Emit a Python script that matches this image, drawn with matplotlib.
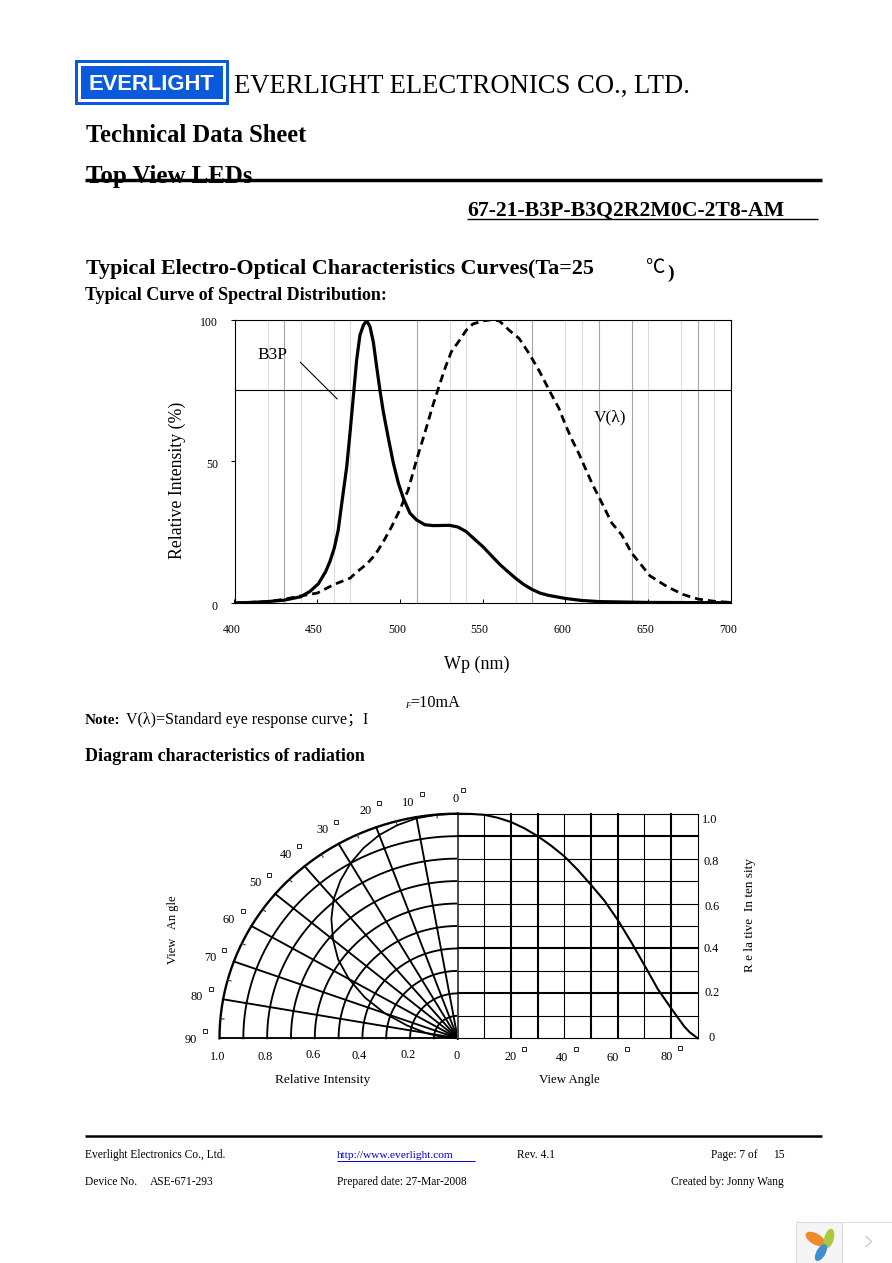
import matplotlib
matplotlib.use("Agg")
import matplotlib.pyplot as plt
import numpy as np
from matplotlib.patches import Ellipse, Rectangle
from matplotlib.transforms import ScaledTranslation

plt.rcParams['font.family'] = ['Liberation Serif', 'Noto Sans CJK SC', 'DejaVu Sans']

W, H = 892, 1263

# spectral distribution
b3p_nm = [400, 410, 420, 430, 440, 445.6, 450.7, 455, 457.7, 460.3, 462.7, 465, 467.8, 469.8, 471.8, 473.8,
          475.8, 477.9, 479.9, 481.9, 483.9, 485.9, 487.9, 489.9, 493, 496, 499, 502, 506, 510, 515, 520,
          530, 535, 540, 544.3, 550.4, 555.4, 560.5, 565.5, 569.7, 574.6, 579.4, 584.6, 589.7, 600, 609.6,
          620, 650, 700]
b3p_val = [0, 0.2, 0.5, 1, 2.2, 4.1, 6.8, 11, 14.7, 19.4, 25.8, 36, 48, 60, 72.8, 85.7,
           94.5, 98, 99.6, 97.4, 92, 83.3, 75, 67.5, 58, 49.3, 42.3, 37, 31.7, 29.3, 27.6, 27.3,
           27.4, 26.8, 25.2, 22.9, 19.7, 16.6, 13.5, 10.9, 8.8, 6.6, 4.9, 3.5, 2.7, 1.6, 0.9,
           0.5, 0.2, 0.1]
eye_nm = [400, 420, 425, 430, 440, 445, 450, 460, 470, 473, 480, 485, 490, 495, 500, 505, 510, 515, 520, 524.8,
          527.5, 531, 536, 540, 544, 550, 555, 560, 566, 572, 578, 584, 588, 592, 596, 600, 604,
          608, 612, 616, 620, 624, 628, 634, 640, 645, 651, 661, 671, 680, 690, 700]
eye_val = [0, 0.5, 0.9, 1.3, 2.5, 3, 3.5, 6.5, 8.8, 10.5, 13.8, 17, 21.7, 27, 33, 40, 50.5, 60, 70, 78.6,
           83.3, 88.6, 92.7, 96.2, 98.4, 99.5, 99.9, 99.5, 96.2, 93.3, 88, 82, 77.5, 73, 68.7, 62.8, 57.5,
           52.8, 47.5, 42.2, 37.6, 32.9, 28.2, 24, 17.6, 14, 9.6, 5.9, 3, 1.4, 0.6, 0.2]
dark_grid_nm = [430, 510, 580, 620, 640, 680]
light_grid_nm = [420, 440, 460, 470, 530, 540, 570, 600, 610, 650, 670, 690]
spec_xticks = [400, 450, 500, 550, 600, 650, 700]
spec_yticks = [0, 50, 100]

# radiation diagram
view_angle = [0, 5, 10, 15, 20, 25, 30, 35, 40, 45, 50, 55, 60, 65, 70, 75, 80, 82.5, 85, 87, 90]
rel_intensity = [1.0, 0.999, 0.995, 0.982, 0.963, 0.935, 0.90, 0.858, 0.81, 0.75, 0.683, 0.613, 0.527,
                 0.43, 0.326, 0.22, 0.134, 0.093, 0.052, 0.027, 0.0]
thick_angles = [20, 30, 50, 60, 80]
thin_angles = [10, 40, 70, 90]
thick_levels = [0.2, 0.4, 0.9]
thin_levels = [0.1, 0.3, 0.5, 0.6, 0.7, 0.8, 1.0]

fig = plt.figure(figsize=(W / 100, H / 100), dpi=100, facecolor='white')


def px_axes(left, top, right, bottom):
    return fig.add_axes([left / W, 1 - bottom / H, (right - left) / W, (bottom - top) / H])


# top chart
ax = px_axes(234.5, 319.5, 731, 603)
ax.set_xlim(400, 700)
ax.set_ylim(0, 100)
for v in light_grid_nm:
    ax.axvline(v, color='#dcdcdc', lw=0.8, zorder=1)
for v in dark_grid_nm:
    ax.axvline(v, color='#a6a6a6', lw=0.8, zorder=1)
ax.axhline(75, color='black', lw=0.8, zorder=2)
ax.plot(eye_nm, eye_val, color='black', lw=2.0, dashes=(2.9, 1.8), zorder=3)
ax.plot(b3p_nm, b3p_val, color='black', lw=2.3, solid_joinstyle='round', zorder=4)
ax.plot([439.8, 462], [84.9, 72], color='black', lw=0.8, zorder=2)
ax.set_xticks(spec_xticks)
ax.set_yticks(spec_yticks)
ax.tick_params(axis='x', direction='in', length=3, width=0.7, labelsize=8.5, pad=15)
ax.tick_params(axis='y', direction='out', length=3, width=0.7, labelsize=8.5, pad=9)
for lab in ax.get_xticklabels():
    lab.set_transform(lab.get_transform() + ScaledTranslation(-3 / 100, 0, fig.dpi_scale_trans))
for lab in ax.get_yticklabels():
    lab.set_transform(lab.get_transform() + ScaledTranslation(0, -2 / 100, fig.dpi_scale_trans))
for s in ax.spines.values():
    s.set_linewidth(0.8)

# radiation, left half
pol = px_axes(219.5, 813.7, 457.7, 1038.3)
pol.set_xlim(-1, 0)
pol.set_ylim(0, 1)
pol.axis('off')
th = np.radians(np.linspace(0, 90, 181))
for r in np.arange(1, 11) / 10:
    pol.plot(-r * np.sin(th), r * np.cos(th), color='black', lw=1.7 if r == 1 else 1.35, clip_on=False)
for a in range(0, 100, 10):
    t = np.radians(a)
    pol.plot([0, -np.sin(t)], [0, np.cos(t)], color='black', lw=1.35, clip_on=False)
for a in range(5, 95, 10):
    t = np.radians(a)
    pol.plot([-0.985 * np.sin(t), -np.sin(t)], [0.985 * np.cos(t), np.cos(t)], color='#333333', lw=0.8, clip_on=False)
t = np.radians(view_angle)
pol.plot(-np.array(rel_intensity) * np.sin(t), np.array(rel_intensity) * np.cos(t), color='black', lw=1.3,
         solid_joinstyle='round', clip_on=False)

# radiation, right half
cart = px_axes(457.7, 813.7, 697.7, 1038.3)
cart.set_xlim(0, 90)
cart.set_ylim(0, 1)
cart.axis('off')
for a in thin_angles:
    cart.axvline(a, color='black', lw=0.8, clip_on=False)
for a in thick_angles:
    cart.axvline(a, color='black', lw=1.5, clip_on=False)
cart.axvline(0, color='#555555', lw=1.3, clip_on=False)
for v in thin_levels + [0]:
    cart.axhline(v, color='black', lw=0.8, clip_on=False)
for v in thick_levels:
    cart.axhline(v, color='black', lw=1.5, clip_on=False)
cart.plot(view_angle, rel_intensity, color='black', lw=1.5, solid_joinstyle='round', clip_on=False)

# page furniture, pixel coordinates
page = fig.add_axes([0, 0, 1, 1], zorder=5)
page.set_xlim(0, W)
page.set_ylim(H, 0)
page.axis('off')


def txt(x, y, s, size=8.5, **kw):
    kw.setdefault('va', 'baseline')
    return page.text(x, y, s, fontsize=size, **kw)


def ctr(x, y, s, size=8.5, **kw):
    return page.text(x, y, s, fontsize=size, ha='center', va='center', **kw)


def rule(x0, x1, y, lw, color='black'):
    page.plot([x0, x1], [y, y], color=color, lw=lw, solid_capstyle='butt', zorder=6)


def degree(x, y):
    page.plot([x], [y], 's', ms=2.6, mfc='white', mec='black', mew=0.6)


# logo
page.add_patch(Rectangle((75, 60), 153.7, 44.7, fc='#0a5adb', ec='none'))
page.add_patch(Rectangle((78, 62.7), 148, 39.3, fc='white', ec='none'))
page.add_patch(Rectangle((81.3, 66), 142, 33.3, fc='#0a5adb', ec='none'))
ctr(151.5, 84, 'EVERLIGHT', size=15.8, color='white', weight='bold', family='Liberation Sans')

txt(234, 93, 'EVERLIGHT ELECTRONICS CO., LTD.', size=19.2)
txt(86, 142, 'Technical Data Sheet', size=17.7, weight='bold')
txt(86, 183, 'Top View LEDs', size=17.9, weight='bold')
rule(85, 822, 180.3, 2.5)
txt(467, 216, '67-21-B3P-B3Q2R2M0C-2T8-AM', size=15.7, weight='bold')
rule(467, 818, 218.5, 1.0)

txt(86, 274, 'Typical Electro-Optical Characteristics Curves(Ta=25', size=15.8, weight='bold')
txt(645, 273, '℃', size=14)
txt(667, 278, ')', size=14, weight='bold')
txt(85, 300, 'Typical Curve of Spectral Distribution:', size=13, weight='bold')

ctr(272.5, 355, 'B3P', size=12.5)
ctr(610.5, 417, 'V(λ)', size=12.5)
ctr(177, 480, 'Relative Intensity (%)', size=12.8, rotation=90)
ctr(477, 664, 'Wp (nm)', size=13)

txt(85, 724, 'Note:', size=11, weight='bold')
txt(126, 724, 'V(λ)=Standard eye response curve；I', size=11.5)
txt(405, 708, 'F', size=6.5, style='italic')
txt(410, 707, '=10mA', size=11.7)
txt(85, 761, 'Diagram characteristics of radiation', size=13, weight='bold')

# radiation labels
polar_labels = ['0', '10', '20', '30', '40', '50', '60', '70', '80', '90']
polar_pos = [(455.7, 799), (408, 803), (365.7, 811), (322.7, 830), (285.7, 855),
             (255.7, 882.7), (229, 920), (210, 957.7), (197, 997), (191, 1040)]
polar_deg = [(463, 790), (421.7, 794), (379, 803), (336, 822), (299, 846),
             (269, 874.7), (243, 911), (224, 950), (211, 989), (205, 1031)]
for s, p, d in zip(polar_labels, polar_pos, polar_deg):
    ctr(p[0], p[1], s, size=8.8)
    degree(*d)

left_labels = ['1.0', '0.8', '0.6', '0.4', '0.2', '0']
left_pos = [(218, 1056.7), (265, 1057), (312.7, 1055), (359, 1056), (408, 1055), (457, 1055.7)]
for s, p in zip(left_labels, left_pos):
    ctr(p[0], p[1], s, size=8.8)

ang_labels = ['20', '40', '60', '80']
ang_pos = [(511, 1056.7), (561.7, 1058), (613, 1057.7), (666.7, 1056.7)]
ang_deg = [(524, 1048.7), (575.7, 1048.7), (627, 1049), (680, 1048)]
for s, p, d in zip(ang_labels, ang_pos, ang_deg):
    ctr(p[0], p[1], s, size=8.8)
    degree(*d)

right_labels = ['1.0', '0.8', '0.6', '0.4', '0.2', '0']
right_pos = [(710, 820), (710.7, 861.7), (711.7, 906.7), (711, 949), (711.7, 993), (712, 1038)]
for s, p in zip(right_labels, right_pos):
    ctr(p[0], p[1], s, size=8.8)

ctr(322.7, 1080, 'Relative Intensity', size=9.6)
ctr(569.5, 1080, 'View Angle', size=9.3)
ctr(173, 930, 'View   An gle', size=9, rotation=90)
ctr(750, 915, 'R e la tive  In ten sity', size=9.5, rotation=90)

# footer
rule(85, 822, 1136, 1.8)
txt(85, 1158, 'Everlight Electronics Co., Ltd.', size=8.3)
txt(337, 1158, 'http://www.everlight.com', size=8.2, color='#0000cc')
rule(337, 475, 1160.5, 0.7, color='#0000cc')
txt(517, 1158, 'Rev. 4.1', size=8.3)
txt(711, 1158, 'Page: 7 of', size=8.3)
txt(773, 1158, '15', size=8.3)
txt(85, 1185, 'Device No.', size=8.3)
txt(150, 1185, 'ASE-671-293', size=8.3)
txt(337, 1185, 'Prepared date: 27-Mar-2008', size=8.3)
txt(671, 1185, 'Created by: Jonny Wang', size=8.3)

# viewer widget, bottom right corner
page.add_patch(Rectangle((796, 1222), 46, 42, fc='#f5f5f5', ec='#dddddd', lw=0.8, clip_on=True))
page.add_patch(Rectangle((842, 1222), 52, 42, fc='white', ec='#dddddd', lw=0.8, clip_on=True))
page.add_patch(Ellipse((815.5, 1239), 22, 11, angle=30, fc='#ef8a2c', ec='none'))
page.add_patch(Ellipse((829, 1238.5), 9.5, 20, angle=15, fc='#a9c93f', ec='none'))
page.add_patch(Ellipse((821, 1252.5), 9, 19, angle=30, fc='#3f8fd0', ec='none'))
page.plot([866, 871.5, 866], [1236.5, 1241.5, 1246.5], color='#c8c8c8', lw=0.9)

fig.savefig('out.png', dpi=100, facecolor='white')
